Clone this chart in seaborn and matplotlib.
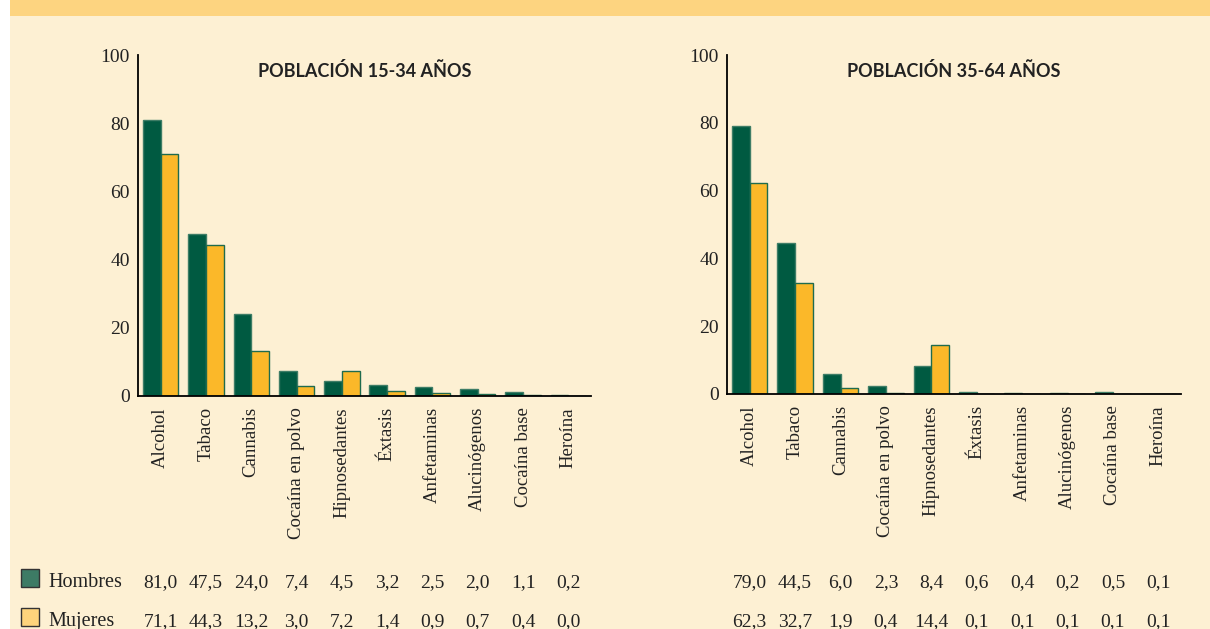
import pandas as pd
import matplotlib.pyplot as plt
import matplotlib.transforms as mtransforms
from matplotlib.patches import Rectangle
import seaborn as sns

# Data
sustancias = ["Alcohol", "Tabaco", "Cannabis", "Cocaína en polvo", "Hipnosedantes",
              "Éxtasis", "Anfetaminas", "Alucinógenos", "Cocaína base", "Heroína"]
hombres_15_34 = [81.0, 47.5, 24.0, 7.4, 4.5, 3.2, 2.5, 2.0, 1.1, 0.2]
mujeres_15_34 = [71.1, 44.3, 13.2, 3.0, 7.2, 1.4, 0.9, 0.7, 0.4, 0.0]
hombres_35_64 = [79.0, 44.5, 6.0, 2.3, 8.4, 0.6, 0.4, 0.2, 0.5, 0.1]
mujeres_35_64 = [62.3, 32.7, 1.9, 0.4, 14.4, 0.1, 0.1, 0.1, 0.1, 0.1]
titulos = ["POBLACIÓN 15-34 AÑOS", "POBLACIÓN 35-64 AÑOS"]
sexos = ["Hombres", "Mujeres"]

GREEN = "#005A41"
YELLOW = "#FBB829"
CREAM = "#FDF0D3"
BAND = "#FDD480"
SERIF = "Liberation Serif"

sns.set_style("white")
plt.rcParams["font.family"] = SERIF

fig = plt.figure(figsize=(12.1, 6.29), dpi=100)
fig.patch.set_facecolor("white")

W, H = 1210, 629
# background panel and top band
fig.patches.append(Rectangle((10 / W, 0), 1 - 10 / W, 1, transform=fig.transFigure,
                             facecolor=CREAM, edgecolor="none", zorder=-2))
fig.patches.append(Rectangle((10 / W, 1 - 16 / H), 1 - 10 / W, 16 / H, transform=fig.transFigure,
                             facecolor=BAND, edgecolor="none", zorder=-1))

panels = [
    (hombres_15_34, mujeres_15_34, [138, 55, 591, 396]),
    (hombres_35_64, mujeres_35_64, [727, 55, 1181, 394]),
]

for i, (hom, muj, (x0, y0, x1, y1)) in enumerate(panels):
    ax = fig.add_axes([x0 / W, 1 - y1 / H, (x1 - x0) / W, (y1 - y0) / H])
    ax.set_zorder(2)
    ax.set_facecolor("none")
    df = pd.DataFrame({
        "sustancia": sustancias * 2,
        "valor": hom + muj,
        "sexo": ["Hombres"] * len(hom) + ["Mujeres"] * len(muj),
    })
    sns.barplot(data=df, x="sustancia", y="valor", hue="sexo", palette=[GREEN, YELLOW],
                width=0.78, saturation=1, legend=False, ax=ax, zorder=2)
    for p in ax.containers[0]:
        p.set_edgecolor("#3E7D66")
        p.set_linewidth(1.0)
    for p in ax.containers[1]:
        p.set_edgecolor("#1E6B4E")
        p.set_linewidth(1.0)

    ax.set_xlim(-0.5, 9.5)
    ax.set_ylim(0, 100)
    ax.set_xlabel("")
    ax.set_ylabel("")
    for s in ["top", "right"]:
        ax.spines[s].set_visible(False)
    for s in ["left", "bottom"]:
        ax.spines[s].set_color("black")
        ax.spines[s].set_linewidth(1.3)
        ax.spines[s].set_zorder(3)

    ax.set_yticks([0, 20, 40, 60, 80, 100])
    ax.tick_params(axis="y", direction="in", length=8, width=1.3, color="black",
                   labelsize=14, pad=6, labelcolor="#222222")
    ax.set_xticks(range(len(sustancias)))
    ax.set_xticklabels(sustancias, rotation=90, fontsize=13.5, color="#222222")
    ax.tick_params(axis="x", which="major", length=0, pad=8)
    ax.set_xticks([k + 0.5 for k in range(len(sustancias))], minor=True)
    ax.tick_params(axis="x", which="minor", direction="in", length=8, width=1.3, color="black")
    ax.grid(False)

    ax.text(0.5, 0.952, titulos[i], transform=ax.transAxes, ha="center", va="center",
            fontsize=13, fontweight="bold", family="Lato", color="#222222")

    # data table under the chart
    trans = mtransforms.blended_transform_factory(ax.transData, fig.transFigure)
    for row, vals in enumerate([hom, muj]):
        yb = 1 - [587, 626][row] / H
        for k, v in enumerate(vals):
            ax.text(k, yb, f"{v:.1f}".replace(".", ","), transform=trans, ha="center",
                    va="baseline", fontsize=14, color="#222222", clip_on=False)

# legend of the table
legend_colors = ["#3D7B65", "#FED47C"]
for row, (lab, col) in enumerate(zip(sexos, legend_colors)):
    top = [569, 608][row]
    fig.patches.append(Rectangle((21 / W, 1 - (top + 18) / H), 18 / W, 18 / H,
                                 transform=fig.transFigure, facecolor=col,
                                 edgecolor="#333333", linewidth=1.0, zorder=3))
    fig.text(48 / W, 1 - [587, 626][row] / H, lab, ha="left", va="baseline",
             fontsize=14.5, color="#222222")

plt.savefig("out.png", dpi=100, facecolor=fig.get_facecolor())
plt.close()
